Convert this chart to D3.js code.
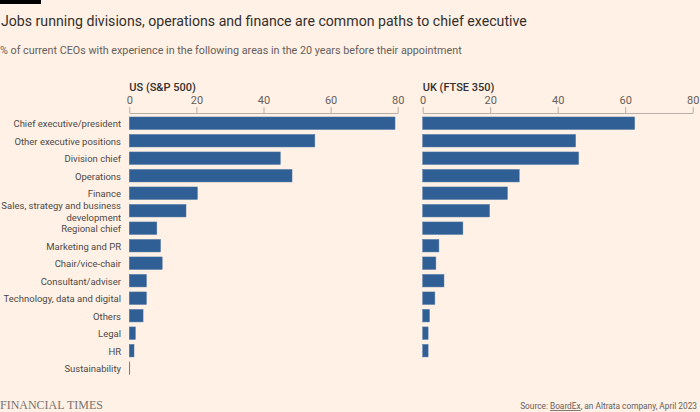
<!DOCTYPE html>
<html><head><meta charset="utf-8">
<script src="https://cdn.jsdelivr.net/npm/d3@7"></script>
<style>
html,body{margin:0;padding:0;background:#FFF1E5;}
svg{display:block;font-family:"Roboto","Open Sans",sans-serif;}
</style></head>
<body>
<svg id="chart" width="700" height="412"></svg>
<script>
const categories = ["Chief executive/president","Other executive positions","Division chief","Operations","Finance","Sales, strategy and business development","Regional chief","Marketing and PR","Chair/vice-chair","Consultant/adviser","Technology, data and digital","Others","Legal","HR","Sustainability"];
const usValues = [79.2,55.3,45.0,48.5,20.3,16.9,8.2,9.3,9.8,5.1,5.1,4.1,1.8,1.4,0.15];
const ukValues = [62.8,45.3,46.2,28.6,25.1,19.8,11.9,4.8,3.9,6.3,3.6,2.0,1.6,1.6,0];
const tickValues = [0,20,40,60,80];
const title = "Jobs running divisions, operations and finance are common paths to chief executive";
const subtitle = "% of current CEOs with experience in the following areas in the 20 years before their appointment";
const panelTitles = ["US (S&P 500)","UK (FTSE 350)"];

const svg = d3.select("#chart");
svg.append("rect").attr("width",700).attr("height",412).attr("fill","#FFF1E5");
svg.append("rect").attr("x",0).attr("y",0).attr("width",41).attr("height",4).attr("fill","#000");

function fit(sel, target){
  const w = sel.node().getComputedTextLength();
  const fs = parseFloat(sel.attr("font-size"));
  sel.attr("font-size", fs*target/w);
}
const t = svg.append("text").attr("x",1).attr("y",26).attr("font-size",16).attr("fill","#33302e").text(title);
fit(t, 526);
const st = svg.append("text").attr("x",0).attr("y",54).attr("font-size",12).attr("fill","#66605c").text(subtitle);
fit(st, 462);

const y = d3.scaleBand().domain(categories).range([114, 377.4]).paddingInner(0.286).paddingOuter(0.17);
const xUS = d3.scaleLinear().domain([0,80]).range([129.3, 397.7]);
const xUK = d3.scaleLinear().domain([0,80]).range([422.7, 692.7]);

function panel(x, values, name){
  const g = svg.append("g");
  g.append("text").attr("x", x(0)).attr("y", 90.5).attr("font-size",11).attr("font-weight",500).attr("fill","#33302e").text(name);
  const ax = g.append("g").attr("transform","translate(0,113)")
    .call(d3.axisTop(x).tickValues(tickValues).tickSize(6).tickSizeOuter(0).tickPadding(3));
  ax.attr("font-family",null);
  ax.select(".domain").attr("stroke","#b8aea6");
  ax.selectAll(".tick line").attr("stroke","#b8aea6");
  ax.selectAll(".tick text").attr("fill","#66605c").attr("font-size",11);
  g.selectAll("rect.bar").data(values).join("rect").attr("class","bar")
    .attr("x", x(0)).attr("y",(d,i)=>y(categories[i]))
    .attr("width", d=>Math.max(0, x(d)-x(0))).attr("height", y.bandwidth())
    .attr("fill","#2f5f94").attr("stroke","#4a75a6").attr("stroke-width",0.5);
}
panel(xUS, usValues, panelTitles[0]);
panel(xUK, ukValues, panelTitles[1]);

// category labels
const labels = svg.append("g");
categories.forEach(c=>{
  const cy = y(c) + y.bandwidth()/2;
  const tx = labels.append("text").attr("x",121).attr("text-anchor","end").attr("font-size",11).attr("fill","#4d4845");
  if (c.startsWith("Sales")) {
    tx.append("tspan").attr("x",121).attr("y",cy-6+4).text("Sales, strategy and business");
    tx.append("tspan").attr("x",121).attr("y",cy+6+4).text("development");
  } else {
    tx.attr("y", cy+4).text(c);
  }
});
const probe = labels.selectAll("text").filter(function(){return d3.select(this).text()==="Technology, data and digital";});
const pw = probe.node().getComputedTextLength();
const lfs = 11*117.5/pw;
labels.selectAll("text").attr("font-size", lfs);

// footer
const ft = svg.append("text").attr("x",0).attr("y",409).attr("font-size",12).attr("fill","#7a736e")
  .style("font-family","'Liberation Serif','DejaVu Serif',serif").text("FINANCIAL TIMES");
fit(ft, 103);
const src = svg.append("text").attr("x",697).attr("y",409).attr("text-anchor","end").attr("font-size",10).attr("fill","#66605c");
src.append("tspan").text("Source: ");
src.append("tspan").attr("text-decoration","underline").text("BoardEx");
src.append("tspan").text(", an Altrata company, April 2023");
fit(src, 177);
</script>
</body></html>
